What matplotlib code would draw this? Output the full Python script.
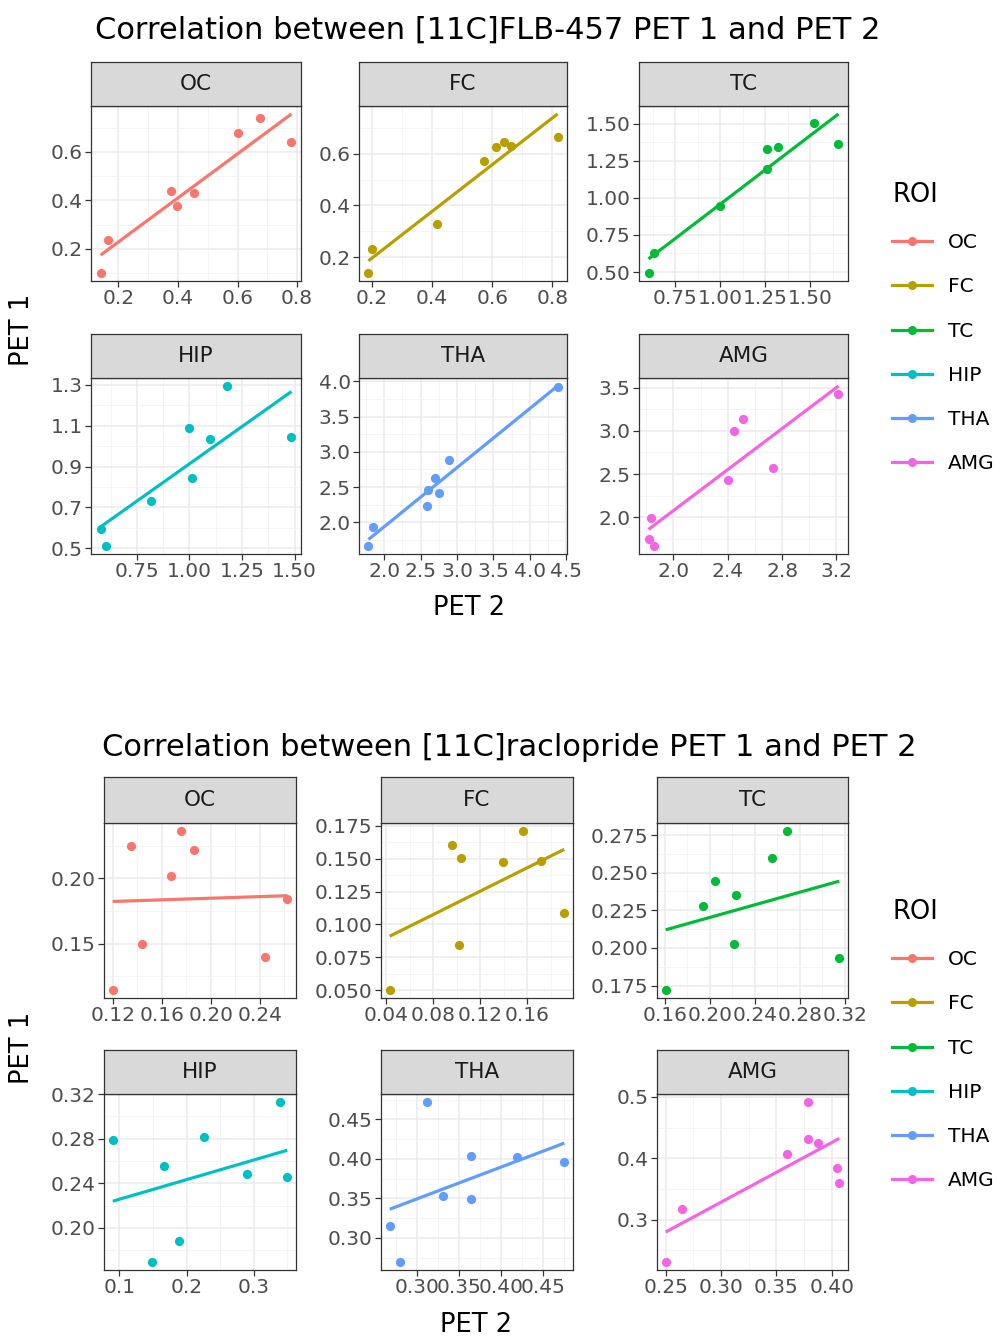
import matplotlib
matplotlib.use("Agg")
import matplotlib.pyplot as plt
import numpy as np
from matplotlib.lines import Line2D
from matplotlib.ticker import AutoMinorLocator, FixedLocator

rois = ["OC", "FC", "TC", "HIP", "THA", "AMG"]
colors = ["#F8766D", "#B79F00", "#00BA38", "#00BFC4", "#619CFF", "#F564E3"]

# [11C]FLB-457 : PET 2 (x) vs PET 1 (y)
flb_oc_x = [0.140, 0.164, 0.375, 0.396, 0.455, 0.603, 0.677, 0.781]
flb_oc_y = [0.100, 0.237, 0.440, 0.375, 0.430, 0.677, 0.739, 0.640]
flb_fc_x = [0.189, 0.200, 0.415, 0.574, 0.613, 0.640, 0.663, 0.817]
flb_fc_y = [0.138, 0.230, 0.330, 0.574, 0.627, 0.645, 0.630, 0.665]
flb_tc_x = [0.602, 0.633, 1.000, 1.257, 1.257, 1.318, 1.522, 1.656]
flb_tc_y = [0.493, 0.630, 0.947, 1.193, 1.332, 1.346, 1.507, 1.366]
flb_hip_x = [0.577, 0.604, 0.817, 0.997, 1.013, 1.099, 1.179, 1.485]
flb_hip_y = [0.593, 0.511, 0.730, 1.088, 0.844, 1.034, 1.295, 1.047]
flb_tha_x = [1.785, 1.845, 2.584, 2.598, 2.699, 2.758, 2.890, 4.380]
flb_tha_y = [1.665, 1.940, 2.230, 2.458, 2.632, 2.420, 2.880, 3.920]
flb_amg_x = [1.816, 1.836, 1.860, 2.400, 2.442, 2.510, 2.736, 3.215]
flb_amg_y = [1.750, 1.990, 1.670, 2.430, 2.996, 3.135, 2.573, 3.423]

# [11C]raclopride : PET 2 (x) vs PET 1 (y)
rac_oc_x = [0.1200, 0.1350, 0.1437, 0.1677, 0.1756, 0.1863, 0.2446, 0.2624]
rac_oc_y = [0.1145, 0.2250, 0.1495, 0.2015, 0.2362, 0.2217, 0.1400, 0.1844]
rac_fc_x = [0.0428, 0.0960, 0.1034, 0.1017, 0.1390, 0.1560, 0.1720, 0.1915]
rac_fc_y = [0.0500, 0.1605, 0.1509, 0.0843, 0.1476, 0.1712, 0.1483, 0.1090]
rac_tc_x = [0.1609, 0.1942, 0.2051, 0.2213, 0.2236, 0.2555, 0.2684, 0.3150]
rac_tc_y = [0.1720, 0.2280, 0.2445, 0.2028, 0.2350, 0.2600, 0.2777, 0.1930]
rac_hip_x = [0.0900, 0.1480, 0.1667, 0.1880, 0.2254, 0.2900, 0.3388, 0.3500]
rac_hip_y = [0.2786, 0.1694, 0.2560, 0.1880, 0.2816, 0.2486, 0.3130, 0.2459]
rac_tha_x = [0.2675, 0.2794, 0.3123, 0.3310, 0.3639, 0.3639, 0.4194, 0.4758]
rac_tha_y = [0.3148, 0.2696, 0.4720, 0.3528, 0.4035, 0.3494, 0.4027, 0.3963]
rac_amg_x = [0.2500, 0.2650, 0.3595, 0.3784, 0.3784, 0.3874, 0.4045, 0.4069]
rac_amg_y = [0.2308, 0.3180, 0.4063, 0.4918, 0.4308, 0.4253, 0.3834, 0.3589]

# tick labels per panel (x, y)
flb_xticks = [["0.2", "0.4", "0.6", "0.8"], ["0.2", "0.4", "0.6", "0.8"],
              ["0.75", "1.00", "1.25", "1.50"], ["0.75", "1.00", "1.25", "1.50"],
              ["2.0", "2.5", "3.0", "3.5", "4.0", "4.5"], ["2.0", "2.4", "2.8", "3.2"]]
flb_yticks = [["0.2", "0.4", "0.6"], ["0.2", "0.4", "0.6"],
              ["0.50", "0.75", "1.00", "1.25", "1.50"], ["0.5", "0.7", "0.9", "1.1", "1.3"],
              ["2.0", "2.5", "3.0", "3.5", "4.0"], ["2.0", "2.5", "3.0", "3.5"]]
rac_xticks = [["0.12", "0.16", "0.20", "0.24"], ["0.04", "0.08", "0.12", "0.16"],
              ["0.16", "0.20", "0.24", "0.28", "0.32"], ["0.1", "0.2", "0.3"],
              ["0.30", "0.35", "0.40", "0.45"], ["0.25", "0.30", "0.35", "0.40"]]
rac_yticks = [["0.15", "0.20"], ["0.050", "0.075", "0.100", "0.125", "0.150", "0.175"],
              ["0.175", "0.200", "0.225", "0.250", "0.275"], ["0.20", "0.24", "0.28", "0.32"],
              ["0.30", "0.35", "0.40", "0.45"], ["0.3", "0.4", "0.5"]]

flb_x = [flb_oc_x, flb_fc_x, flb_tc_x, flb_hip_x, flb_tha_x, flb_amg_x]
flb_y = [flb_oc_y, flb_fc_y, flb_tc_y, flb_hip_y, flb_tha_y, flb_amg_y]
rac_x = [rac_oc_x, rac_fc_x, rac_tc_x, rac_hip_x, rac_tha_x, rac_amg_x]
rac_y = [rac_oc_y, rac_fc_y, rac_tc_y, rac_hip_y, rac_tha_y, rac_amg_y]

W, H = 1002, 1337
fig = plt.figure(figsize=(W / 100, H / 100), dpi=100)
fig.patch.set_facecolor("white")

TICK = 14.5
STRIP = 15.5
BASE = 18.5


def pax(l, t, r, b):
    return fig.add_axes([l / W, 1 - b / H, (r - l) / W, (b - t) / H])


def draw_block(xs, ys, xticks, yticks, lefts, rights, rows):
    for i in range(6):
        row = rows[i // 3]
        l, r = lefts[i % 3], rights[i % 3]
        x = np.array(xs[i])
        y = np.array(ys[i])
        c = colors[i]
        ax = pax(l, row[1], r, row[2])
        ax.scatter(x, y, s=44, color=c, linewidths=0, zorder=3)
        # lm fit, like geom_smooth(method = "lm", se = FALSE)
        k, b0 = np.polyfit(x, y, 1)
        lx = np.linspace(x.min(), x.max(), 80)
        ly = k * lx + b0
        ax.plot(lx, ly, color=c, lw=2.3, zorder=2, solid_capstyle="butt")
        xr = x.max() - x.min()
        y0, y1 = min(y.min(), ly.min()), max(y.max(), ly.max())
        ax.set_xlim(x.min() - 0.05 * xr, x.max() + 0.05 * xr)
        ax.set_ylim(y0 - 0.05 * (y1 - y0), y1 + 0.05 * (y1 - y0))
        ax.xaxis.set_major_locator(FixedLocator([float(v) for v in xticks[i]]))
        ax.yaxis.set_major_locator(FixedLocator([float(v) for v in yticks[i]]))
        ax.set_xticklabels(xticks[i])
        ax.set_yticklabels(yticks[i])
        ax.xaxis.set_minor_locator(AutoMinorLocator(2))
        ax.yaxis.set_minor_locator(AutoMinorLocator(2))
        ax.grid(which="major", color="#EBEBEB", lw=1.1)
        ax.grid(which="minor", color="#F2F2F2", lw=0.6)
        ax.set_axisbelow(True)
        for s in ax.spines.values():
            s.set_color("#333333")
            s.set_linewidth(0.9)
        ax.tick_params(which="major", length=4, width=0.9, color="#333333",
                       labelcolor="#4D4D4D", labelsize=TICK, pad=2)
        ax.tick_params(which="minor", length=0)
        st = pax(l, row[0], r, row[1])
        st.set_facecolor("#D9D9D9")
        st.set_xticks([])
        st.set_yticks([])
        for s in st.spines.values():
            s.set_color("#333333")
            s.set_linewidth(0.9)
        st.text(0.5, 0.5, rois[i], ha="center", va="center", fontsize=STRIP, color="#1A1A1A",
                transform=st.transAxes)


def legend(top):
    handles = [Line2D([], [], color=c, lw=2.3, marker="o", markersize=5.5) for c in colors]
    fig.legend(handles, rois, title="ROI", loc="upper left", bbox_to_anchor=(874 / W, 1 - top / H),
               frameon=False, fontsize=TICK, title_fontsize=BASE, labelspacing=1.25,
               handlelength=2.0, handletextpad=0.75, alignment="left")


# top chart
draw_block(flb_x, flb_y, flb_xticks, flb_yticks,
           [91, 359, 639], [301, 567, 848], [(62, 106, 281), (334, 378, 554)])
fig.text(488 / W, 1 - 30 / H, "Correlation between [11C]FLB-457 PET 1 and PET 2",
         ha="center", va="center", fontsize=22, color="black")
fig.text(22 / W, 1 - 330 / H, "PET 1", rotation=90, ha="center", va="center", fontsize=BASE)
fig.text(469 / W, 1 - 608 / H, "PET 2", ha="center", va="center", fontsize=BASE)
legend(164)

# bottom chart
draw_block(rac_x, rac_y, rac_xticks, rac_yticks,
           [104, 381, 657], [296, 573, 848], [(777, 823, 998), (1050, 1094, 1270)])
fig.text(509 / W, 1 - 747 / H, "Correlation between [11C]raclopride PET 1 and PET 2",
         ha="center", va="center", fontsize=22, color="black")
fig.text(22 / W, 1 - 1048 / H, "PET 1", rotation=90, ha="center", va="center", fontsize=BASE)
fig.text(476 / W, 1 - 1325 / H, "PET 2", ha="center", va="center", fontsize=BASE)
legend(881)

fig.savefig("out.png", dpi=100)
